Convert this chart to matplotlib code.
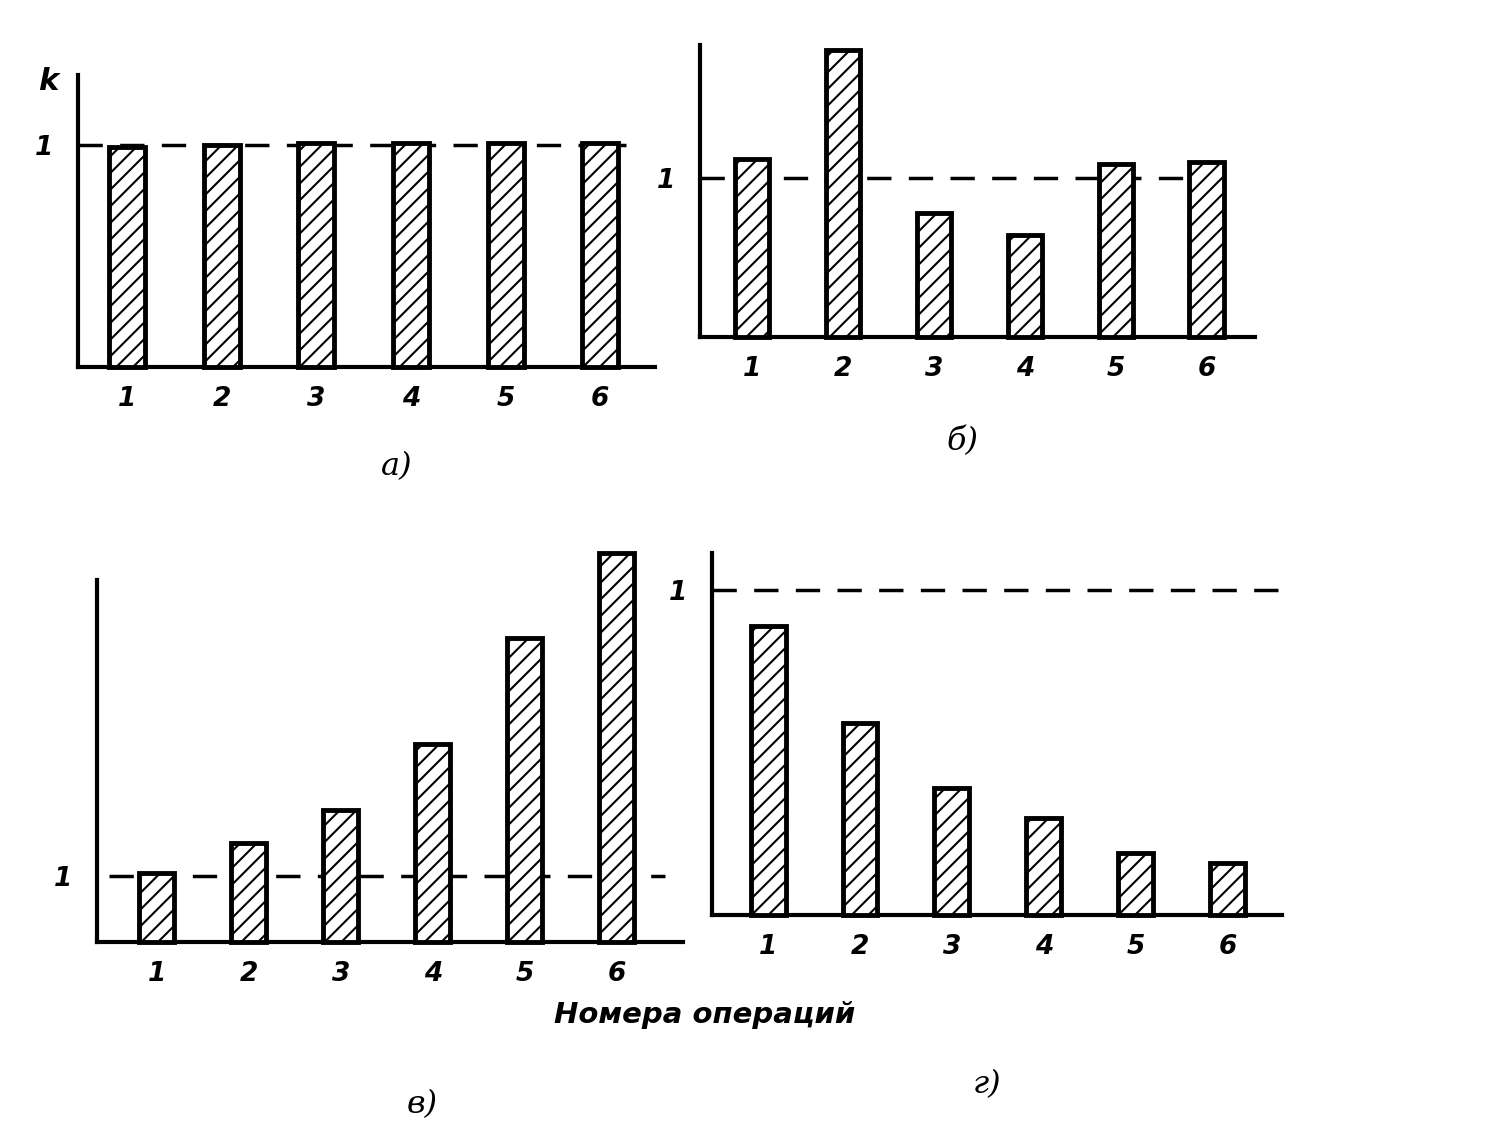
import matplotlib
matplotlib.use("Agg")
import matplotlib.pyplot as plt

W, H = 1510, 1147

ops = [1, 2, 3, 4, 5, 6]
op_labels = ["1", "2", "3", "4", "5", "6"]

# k values per panel (1 = dashed level)
k_a = [0.99, 1.0, 1.01, 1.01, 1.01, 1.01]
k_b = [1.12, 1.81, 0.78, 0.64, 1.09, 1.10]
k_v = [1.05, 1.5, 2.0, 3.0, 4.6, 5.9]
k_g = [0.89, 0.59, 0.39, 0.30, 0.19, 0.16]

captions = ["а)", "б)", "в)", "г)"]
xlabel = "Номера операций"

plt.rcParams['hatch.linewidth'] = 1.5

fig = plt.figure(figsize=(W / 100, H / 100), dpi=100)
fig.patch.set_facecolor("white")


def px_axes(left, top, right, bottom):
    return fig.add_axes([left / W, 1 - bottom / H, (right - left) / W, (bottom - top) / H])


def panel(box, vals, ylim, xlim, spine_top=None, line_x=(0.0, 1.0)):
    ax = px_axes(*box)
    ax.bar(ops, vals, width=0.38, color="white", edgecolor="black",
           linewidth=3.5, hatch="//", clip_on=False, zorder=3)
    ax.set_xlim(*xlim)
    ax.set_ylim(*ylim)
    ax.axhline(1, xmin=line_x[0], xmax=line_x[1], color="black", lw=2.5,
               dashes=(7, 5), zorder=2)
    for s in ["top", "right"]:
        ax.spines[s].set_visible(False)
    for s in ["left", "bottom"]:
        ax.spines[s].set_linewidth(3)
    if spine_top is not None:
        ax.spines["left"].set_bounds(0, spine_top)
    ax.set_xticks(ops)
    ax.set_xticklabels(op_labels, fontsize=19, fontstyle="italic", fontweight="bold")
    ax.set_yticks([1])
    ax.set_yticklabels(["1"], fontsize=19, fontstyle="italic", fontweight="bold")
    ax.tick_params(length=0, pad=14)
    ax.tick_params(axis="y", pad=18)
    ax.patch.set_alpha(0)
    return ax


ax_a = panel((78, 75, 655, 367), k_a, (0, 1.315), (0.48, 6.58), line_x=(0, 0.95))
ax_b = panel((700, 45, 1255, 337), k_b, (0, 1.84), (0.43, 6.53), line_x=(0, 0.95))
ax_v = panel((97, 553, 683, 942), k_v, (0, 389 / 66), (0.35, 6.72),
             spine_top=362 / 66, line_x=(0.02, 0.97))
ax_g = panel((712, 553, 1282, 915), k_g, (0, 1.114), (0.39, 6.59), line_x=(0, 1.0))

fig.text(48 / W, 1 - 82 / H, "k", fontsize=22, fontweight="bold", fontstyle="italic",
         ha="center", va="center")

fig.text(705 / W, 1 - 1015 / H, xlabel, fontsize=21, fontstyle="italic",
         fontweight="bold", ha="center", va="center")

cap_pos = [(397, 467), (962, 442), (422, 1105), (987, 1085)]
for (cx, cy), c in zip(cap_pos, captions):
    fig.text(cx / W, 1 - cy / H, c, fontsize=23, fontstyle="italic",
             family="DejaVu Serif", ha="center", va="center")

fig.savefig("out.png", dpi=100, facecolor="white")
